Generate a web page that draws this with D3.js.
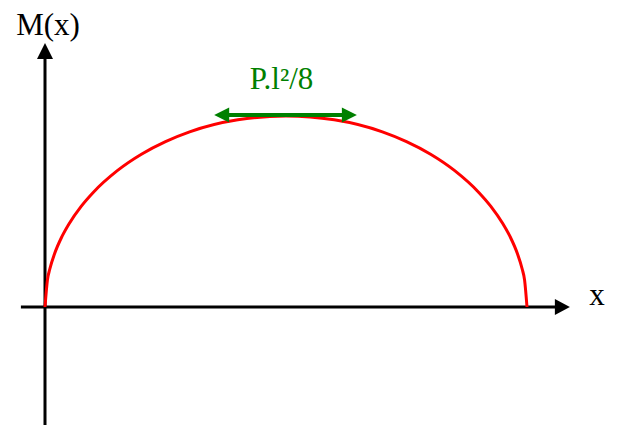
<!DOCTYPE html>
<html>
<head>
<meta charset="utf-8">
<script src="https://cdn.jsdelivr.net/npm/d3@7"></script>
<style>
  body { margin: 0; background: #fff; }
  text { font-family: "Liberation Serif", "Times New Roman", Times, serif; }
</style>
</head>
<body>
<div id="chart"></div>
<script>
// bending moment curve, x as fraction of span l, M as fraction of P.l²/8
var xVals = [0, 0.005, 0.01, 0.02, 0.035, 0.05, 0.075, 0.1, 0.15, 0.2, 0.25, 0.3, 0.4, 0.5,
             0.6, 0.7, 0.75, 0.8, 0.85, 0.9, 0.925, 0.95, 0.965, 0.98, 0.99, 0.995, 1];
var mVals = [0, 0.141, 0.199, 0.28, 0.368, 0.436, 0.527, 0.6, 0.714, 0.8, 0.866, 0.917, 0.98, 1,
             0.98, 0.917, 0.866, 0.8, 0.714, 0.6, 0.527, 0.436, 0.368, 0.28, 0.199, 0.141, 0];
var maxSpan = [0.351, 0.647];   // green double arrow at peak
var maxLabel = "P.l²/8";
var axisLabels = ["M(x)", "x"];

var width = 617, height = 425;

var svg = d3.select("#chart").append("svg")
  .attr("width", width).attr("height", height);

var x = d3.scaleLinear().domain([0, 1]).range([45, 527]);
var y = d3.scaleLinear().domain([0, 1]).range([307, 116]);

// axes
var xExt = [-0.05, 1.089], yExt = [-0.62, 1.382];

svg.append("line")
  .attr("x1", x(xExt[0])).attr("y1", y(0))
  .attr("x2", x(xExt[1]) - 10).attr("y2", y(0))
  .attr("stroke", "#000").attr("stroke-width", 3);
svg.append("path")
  .attr("d", "M" + x(xExt[1]) + "," + y(0) + "l-15,-8v16z")
  .attr("fill", "#000");

svg.append("line")
  .attr("x1", x(0)).attr("y1", y(yExt[0]))
  .attr("x2", x(0)).attr("y2", y(yExt[1]) + 10)
  .attr("stroke", "#000").attr("stroke-width", 3);
svg.append("path")
  .attr("d", "M" + x(0) + "," + y(yExt[1]) + "l-8,16h16z")
  .attr("fill", "#000");

// moment curve
var pts = xVals.map(function(d, i) { return [d, mVals[i]]; });
var line = d3.line()
  .x(function(d) { return x(d[0]); })
  .y(function(d) { return y(d[1]); })
  .curve(d3.curveMonotoneX);

svg.append("path")
  .attr("d", line(pts))
  .attr("fill", "none")
  .attr("stroke", "#ff0000")
  .attr("stroke-width", 3);

// max moment arrow
var green = "#008000";
var ay = y(1) - 1;
svg.append("line")
  .attr("x1", x(maxSpan[0]) + 10).attr("y1", ay)
  .attr("x2", x(maxSpan[1]) - 10).attr("y2", ay)
  .attr("stroke", green).attr("stroke-width", 4);
svg.append("path")
  .attr("d", "M" + x(maxSpan[0]) + "," + ay + "l15,-7.5v15z")
  .attr("fill", green);
svg.append("path")
  .attr("d", "M" + x(maxSpan[1]) + "," + ay + "l-15,-7.5v15z")
  .attr("fill", green);

svg.append("text")
  .attr("x", x((maxSpan[0] + maxSpan[1]) / 2) - 4).attr("y", 89)
  .attr("text-anchor", "middle")
  .attr("font-size", 31)
  .attr("fill", green)
  .text(maxLabel);

svg.append("text")
  .attr("x", 48).attr("y", 35)
  .attr("text-anchor", "middle")
  .attr("font-size", 31)
  .attr("fill", "#000")
  .text(axisLabels[0]);

svg.append("text")
  .attr("x", 597).attr("y", 305)
  .attr("text-anchor", "middle")
  .attr("font-size", 31)
  .attr("fill", "#000")
  .text(axisLabels[1]);
</script>
</body>
</html>
